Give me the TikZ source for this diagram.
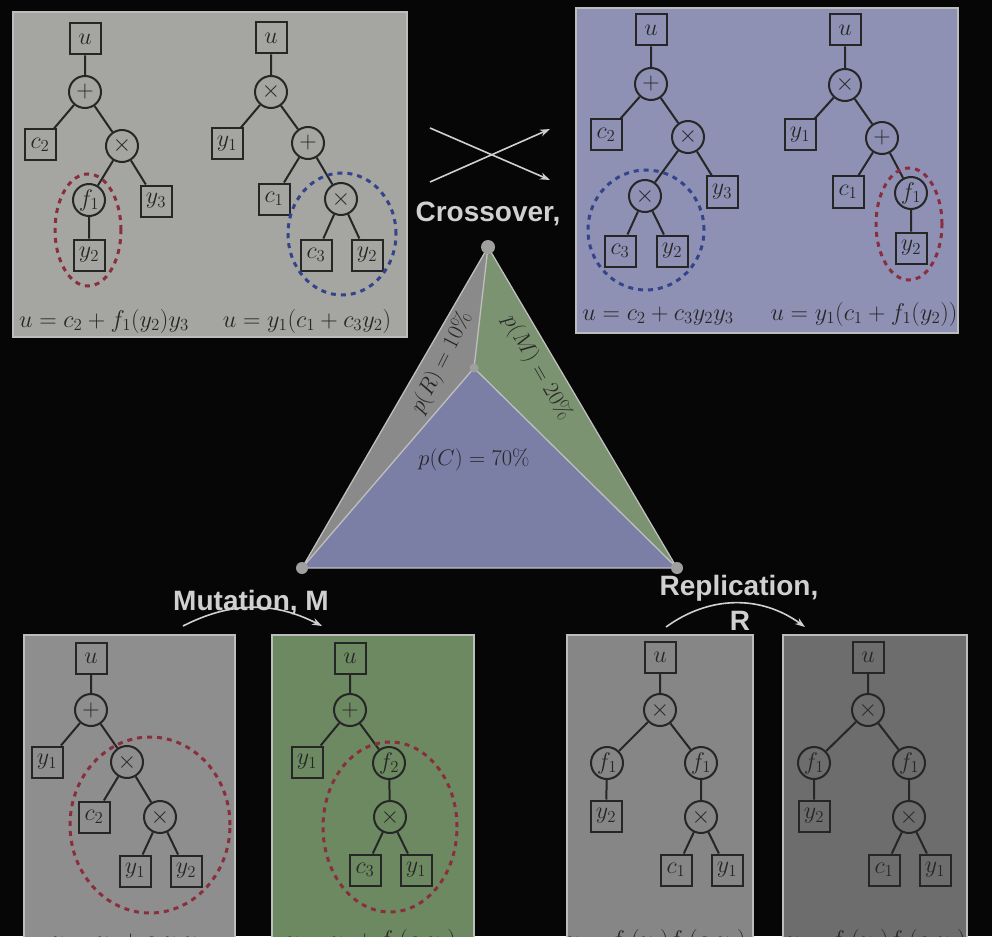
\RequirePackage{fix-cm}
\documentclass[tikz,border=0pt]{standalone}
\usepackage{fontspec}
\newfontfamily\labfont{Liberation Sans}
\usetikzlibrary{arrows.meta}
\definecolor{bg}{HTML}{060606}
\definecolor{pgray}{HTML}{A5A5A2}
\definecolor{pblue}{HTML}{8E91B4}
\definecolor{tgray}{HTML}{8A8A8A}
\definecolor{tgreen}{HTML}{7B9370}
\definecolor{tblue}{HTML}{7B7FA6}
\definecolor{bgrayA}{HTML}{8E8E8E}
\definecolor{bgreen}{HTML}{6D8961}
\definecolor{bgrayC}{HTML}{868686}
\definecolor{bgrayD}{HTML}{6D6D6D}
\definecolor{ink}{HTML}{262626}
\definecolor{redd}{HTML}{8A2E3E}
\definecolor{blued}{HTML}{34448A}
\definecolor{labc}{HTML}{D0D0D0}
\definecolor{pline}{HTML}{BDBDBD}
\tikzset{
  sq/.style={draw=ink, line width=2pt, minimum size=31pt, inner sep=0pt, text=ink, font=\fontsize{24}{27}\selectfont},
  op/.style={circle, draw=ink, line width=2pt, minimum size=32pt, inner sep=0pt, text=ink, font=\fontsize{24}{27}\selectfont},
  tr/.style={draw=ink, line width=2pt},
  panel/.style={draw=pline, line width=1.5pt},
  sel/.style={line width=3pt, dash pattern=on 5pt off 5pt},
  formula/.style={anchor=base, text=ink, inner sep=0pt, font=\fontsize{24.2}{27}\selectfont},
  plab/.style={text=ink, inner sep=0pt, font=\fontsize{22.5}{25}\selectfont},
  lab/.style={text=labc, inner sep=0pt, font=\labfont\bfseries\fontsize{28}{30}\selectfont},
  arr/.style={draw=labc, line width=1.6pt, -{Stealth[length=10pt,width=7pt]}},
  vdot/.style={fill=gray!75!white},
}
\begin{document}
\begin{tikzpicture}[x=1pt,y=-1pt]
\clip (0,0) rectangle (992,936);
\fill[bg] (0,0) rectangle (992,936);

% ---------- panels ----------
\filldraw[panel, fill=pgray] (13,12) rectangle (407,337);
\filldraw[panel, fill=pblue] (576,8) rectangle (958,333);
\filldraw[panel, fill=bgrayA] (24,635) rectangle (235,960);
\filldraw[panel, fill=bgreen] (272,635) rectangle (474,960);
\filldraw[panel, fill=bgrayC] (567,635) rectangle (753,960);
\filldraw[panel, fill=bgrayD] (783,635) rectangle (967,960);

% ---------- tree A ----------
\node[sq] (Au) at (85,39) {$u$};
\node[op] (Ap) at (85,92) {$+$};
\node[sq] (Ac2) at (40,145) {$c_2$};
\node[op] (At) at (122,146) {$\times$};
\node[op] (Af) at (89,200) {$f_1$};
\node[sq] (Ay3) at (156,201) {$y_3$};
\node[sq] (Ay2) at (89,255) {$y_2$};
\draw[tr] (Au)--(Ap) (Ap)--(Ac2) (Ap)--(At) (At)--(Af) (At)--(Ay3) (Af)--(Ay2);
\node[formula] (Aeq) at (104,327) {$u=c_2+f_1(y_2)y_3$};

% ---------- tree B ----------
\node[sq] (Bu) at (271,38) {$u$};
\node[op] (Bt) at (271,92) {$\times$};
\node[sq] (By1) at (227,144) {$y_1$};
\node[op] (Bp) at (308,143) {$+$};
\node[sq] (Bc1) at (274,199) {$c_1$};
\node[op] (Bx) at (341,199) {$\times$};
\node[sq] (Bc3) at (316,255) {$c_3$};
\node[sq] (By2) at (367,255) {$y_2$};
\draw[tr] (Bu)--(Bt) (Bt)--(By1) (Bt)--(Bp) (Bp)--(Bc1) (Bp)--(Bx) (Bx)--(Bc3) (Bx)--(By2);
\node[formula] (Beq) at (307,327) {$u=y_1(c_1+c_3y_2)$};

\draw[sel, redd] (88,230) ellipse [x radius=33pt, y radius=56pt];
\draw[sel, blued] (342,234) ellipse [x radius=54pt, y radius=61pt];

% ---------- tree C ----------
\node[sq] (Cu) at (651,30) {$u$};
\node[op] (Cp) at (651,84) {$+$};
\node[sq] (Cc2) at (606,135) {$c_2$};
\node[op] (Ct) at (688,137) {$\times$};
\node[op] (Cx) at (645,196) {$\times$};
\node[sq] (Cy3) at (722,192) {$y_3$};
\node[sq] (Cc3) at (620,251) {$c_3$};
\node[sq] (Cy2) at (672,251) {$y_2$};
\draw[tr] (Cu)--(Cp) (Cp)--(Cc2) (Cp)--(Ct) (Ct)--(Cx) (Ct)--(Cy3) (Cx)--(Cc3) (Cx)--(Cy2);
\node[formula] (Ceq) at (658,320) {$u=c_2+c_3y_2y_3$};

% ---------- tree D ----------
\node[sq] (Du) at (845,30) {$u$};
\node[op] (Dt) at (845,85) {$\times$};
\node[sq] (Dy1) at (800,135) {$y_1$};
\node[op] (Dp) at (882,138) {$+$};
\node[sq] (Dc1) at (848,192) {$c_1$};
\node[op] (Df) at (911,193) {$f_1$};
\node[sq] (Dy2) at (911,248) {$y_2$};
\draw[tr] (Du)--(Dt) (Dt)--(Dy1) (Dt)--(Dp) (Dp)--(Dc1) (Dp)--(Df) (Df)--(Dy2);
\node[formula] (Deq) at (864,320) {$u=y_1(c_1+f_1(y_2))$};

\draw[sel, blued] (646,230) ellipse [x radius=58pt, y radius=60pt];
\draw[sel, redd] (909,224) ellipse [x radius=33pt, y radius=56pt];

% ---------- crossover arrows ----------
\coordinate (xa1) at (430,128);
\coordinate (xa2) at (550,180);
\coordinate (xb1) at (430,182);
\coordinate (xb2) at (550,129);
\draw[arr] (xa1) -- (xa2);
\draw[arr] (xb1) -- (xb2);
\node[lab] (cross) at (488,214) {Crossover,};

% ---------- triangle ----------
\coordinate (T) at (488,247);
\coordinate (L) at (302,568);
\coordinate (R) at (677,568);
\coordinate (I) at (474,368);
\fill[tgray] (T) -- (L) -- (I) -- cycle;
\fill[tgreen] (T) -- (I) -- (R) -- cycle;
\fill[tblue] (I) -- (L) -- (R) -- cycle;
\draw[gray!50!white, line width=1.3pt] (T) -- (L) -- (R) -- cycle (T) -- (I) (I) -- (L) (I) -- (R);
\fill[vdot] (T) circle (7pt);
\fill[vdot] (L) circle (6pt);
\fill[vdot] (R) circle (6pt);
\fill[vdot] (I) circle (4.5pt);
\node[plab, rotate=63] (pR) at (442,363) {$p(R)=10\%$};
\node[plab, rotate=-60] (pM) at (537,368) {$p(M)=20\%$};
\node[plab] (pC) at (474,460) {$p(C)=70\%$};

% ---------- mutation ----------
\node[lab] (mut) at (251,603) {Mutation, M};
\coordinate (m1) at (183,626);
\coordinate (m2) at (322,626);
\draw[arr] (m1) to[bend left=27] (m2);

\node[sq] (Eu) at (91,658) {$u$};
\node[op] (Ep) at (91,710) {$+$};
\node[sq] (Ey1) at (47,762) {$y_1$};
\node[op] (Et) at (127,762) {$\times$};
\node[sq] (Ec2) at (94,817) {$c_2$};
\node[op] (Ex) at (160,817) {$\times$};
\node[sq] (Ey1b) at (135,871) {$y_1$};
\node[sq] (Ey2) at (186,871) {$y_2$};
\draw[tr] (Eu)--(Ep) (Ep)--(Ey1) (Ep)--(Et) (Et)--(Ec2) (Et)--(Ex) (Ex)--(Ey1b) (Ex)--(Ey2);
\draw[sel, redd] (150,825) ellipse [x radius=80pt, y radius=88pt];
\node[formula] (Eeq) at (128,947) {$u=y_1+c_2y_1y_2$};

\node[sq] (Fu) at (350,658) {$u$};
\node[op] (Fp) at (350,710) {$+$};
\node[sq] (Fy1) at (307,762) {$y_1$};
\node[op] (Ff) at (389,763) {$f_2$};
\node[op] (Ft) at (390,817) {$\times$};
\node[sq] (Fc3) at (365,870) {$c_3$};
\node[sq] (Fy1b) at (416,870) {$y_1$};
\draw[tr] (Fu)--(Fp) (Fp)--(Fy1) (Fp)--(Ff) (Ff)--(Ft) (Ft)--(Fc3) (Ft)--(Fy1b);
\draw[sel, redd] (390,827) ellipse [x radius=67pt, y radius=85pt];
\node[formula] (Feq) at (371,947) {$u=y_1+f_2(c_3y_1)$};

% ---------- replication ----------
\node[lab] (rep) at (739,588) {Replication,};
\node[lab] (repR) at (740,621) {R};
\coordinate (r1) at (666,627);
\coordinate (r2) at (805,627);
\draw[arr] (r1) to[bend left=36] (r2);

\node[sq] (Gu) at (660,657) {$u$};
\node[op] (Gt) at (660,710) {$\times$};
\node[op] (Gf) at (607,763) {$f_1$};
\node[op] (Gg) at (701,763) {$f_1$};
\node[sq] (Gy2) at (606,816) {$y_2$};
\node[op] (Gx) at (701,817) {$\times$};
\node[sq] (Gc1) at (676,870) {$c_1$};
\node[sq] (Gy1) at (727,870) {$y_1$};
\draw[tr] (Gu)--(Gt) (Gt)--(Gf) (Gt)--(Gg) (Gf)--(Gy2) (Gg)--(Gx) (Gx)--(Gc1) (Gx)--(Gy1);
\node[formula] (Geq) at (656,947) {$u=f_1(y_2)f_1(c_1y_1)$};

\node[sq] (Hu) at (868,657) {$u$};
\node[op] (Ht) at (868,710) {$\times$};
\node[op] (Hf) at (814,763) {$f_1$};
\node[op] (Hg) at (909,763) {$f_1$};
\node[sq] (Hy2) at (814,816) {$y_2$};
\node[op] (Hx) at (909,817) {$\times$};
\node[sq] (Hc1) at (884,870) {$c_1$};
\node[sq] (Hy1) at (935,870) {$y_1$};
\draw[tr] (Hu)--(Ht) (Ht)--(Hf) (Ht)--(Hg) (Hf)--(Hy2) (Hg)--(Hx) (Hx)--(Hc1) (Hx)--(Hy1);
\node[formula] (Heq) at (876,947) {$u=f_1(y_2)f_1(c_1y_1)$};
\end{tikzpicture}
\end{document}
